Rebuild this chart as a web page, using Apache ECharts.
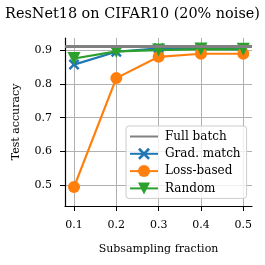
<!DOCTYPE html>
<html><head><meta charset="utf-8">
<script src="https://cdn.jsdelivr.net/npm/echarts@6/dist/echarts.min.js"></script>
<style>html,body{margin:0;padding:0;background:#fff}#c{width:265px;height:265px}</style>
</head><body><div id="c"></div>
<script>
const fractions = [0.1, 0.2, 0.3, 0.4, 0.5];
const fullBatch = 0.908;
const gradMatch = [0.857, 0.895, 0.905, 0.905, 0.902];
const lossBased = [0.495, 0.817, 0.880, 0.889, 0.889];
const randomSel = [0.875, 0.896, 0.900, 0.903, 0.902];
const xTicks = [0.1, 0.2, 0.3, 0.4, 0.5];
const yTicks = [0.5, 0.6, 0.7, 0.8, 0.9];

const F = 'DejaVu Serif';
const pair = ys => fractions.map((x, i) => [x, ys[i]]);
const xPath = 'path://M0,1.6L1.6,0L5,3.4L8.4,0L10,1.6L6.6,5L10,8.4L8.4,10L5,6.6L1.6,10L0,8.4L3.4,5Z';

const chart = echarts.init(document.getElementById('c'), null, {renderer: 'canvas'});
chart.setOption({
  animation: false,
  backgroundColor: '#fff',
  title: {text: 'ResNet18 on CIFAR10 (20% noise)', left: 'center', top: 2,
    textStyle: {fontFamily: F, fontSize: 14.4, fontWeight: 'normal', color: '#000'}},
  grid: {left: 65, right: 13, top: 38, bottom: 59},
  xAxis: {type: 'value', min: 0.0787, max: 0.5206,
    name: 'Subsampling fraction', nameLocation: 'middle', nameGap: 38,
    nameTextStyle: {fontFamily: F, fontSize: 11, color: '#000'},
    axisLine: {show: true, lineStyle: {color: '#000', width: 1.2}},
    axisTick: {show: true, length: 5, customValues: xTicks, lineStyle: {color: '#000', width: 1}},
    axisLabel: {customValues: xTicks, fontFamily: F, fontSize: 11, color: '#000', margin: 14,
      formatter: v => v.toFixed(1)},
    splitLine: {show: true, lineStyle: {color: '#b0b0b0', width: 1}}},
  yAxis: {type: 'value', min: 0.439, max: 0.9356,
    name: 'Test accuracy', nameLocation: 'middle', nameGap: 43,
    nameTextStyle: {fontFamily: F, fontSize: 11, color: '#000'},
    axisLine: {show: true, lineStyle: {color: '#000', width: 1.2}},
    axisTick: {show: true, length: 5, customValues: yTicks, lineStyle: {color: '#000', width: 1}},
    axisLabel: {customValues: yTicks, fontFamily: F, fontSize: 11, color: '#000', margin: 13,
      formatter: v => v.toFixed(1)},
    splitLine: {show: true, lineStyle: {color: '#b0b0b0', width: 1}}},
  legend: {orient: 'vertical', left: 126, top: 126, width: 120,
    itemWidth: 28, itemHeight: 15, itemGap: 5.3,
    padding: [4.5, 6, 4, 3],
    backgroundColor: 'rgba(255,255,255,0.8)', borderColor: '#cccccc', borderWidth: 1, borderRadius: 3,
    textStyle: {fontFamily: F, fontSize: 12, color: '#000', padding: [0, 0, 0, 2]},
    data: [{name: 'Full batch', itemStyle: {opacity: 0}}, 'Grad. match', 'Loss-based', 'Random']},
  series: [
    {name: 'Full batch', type: 'line', data: [], symbol: 'none', color: '#808080',
      lineStyle: {width: 3, color: '#808080'},
      markLine: {silent: true, symbol: 'none', label: {show: false},
        lineStyle: {type: 'solid', width: 3, color: '#808080'},
        data: [{yAxis: fullBatch}]}},
    {name: 'Grad. match', type: 'line', data: pair(gradMatch), color: '#1f77b4',
      symbol: xPath, symbolSize: 11, lineStyle: {width: 2.2},
      itemStyle: {color: '#1f77b4'}},
    {name: 'Loss-based', type: 'line', data: pair(lossBased), color: '#ff7f0e',
      symbol: 'circle', symbolSize: 12, lineStyle: {width: 2.2},
      itemStyle: {color: '#ff7f0e', borderWidth: 0}},
    {name: 'Random', type: 'line', data: pair(randomSel), color: '#2ca02c',
      symbol: 'triangle', symbolRotate: 180, symbolSize: 13, lineStyle: {width: 2.2},
      itemStyle: {color: '#2ca02c', borderWidth: 0}}
  ]
});
</script></body></html>
